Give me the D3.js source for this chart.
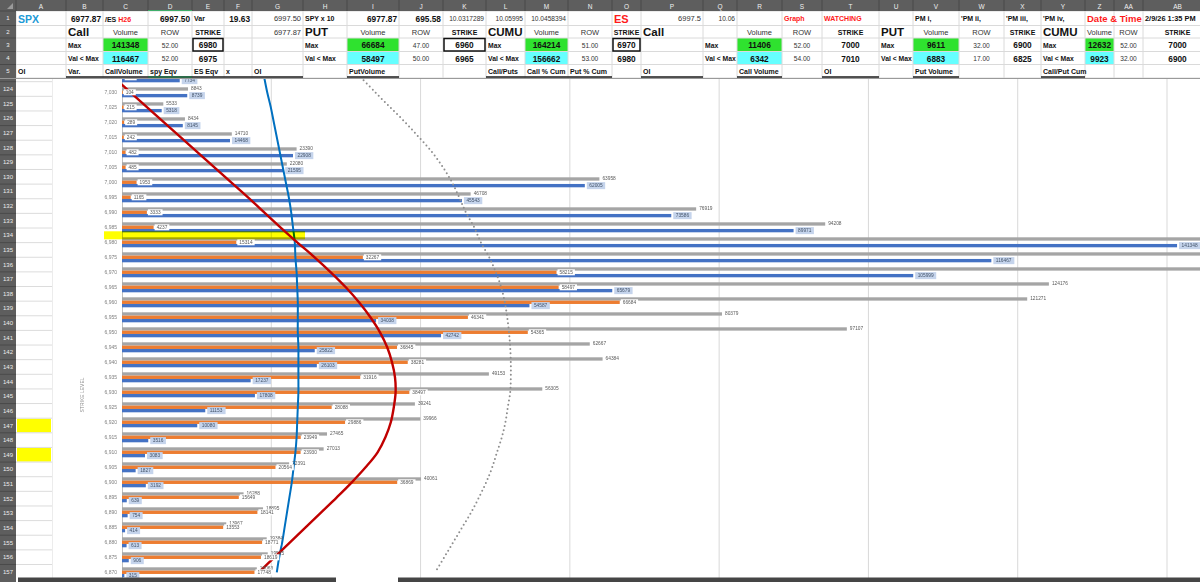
<!DOCTYPE html>
<html><head><meta charset="utf-8">
<script src="https://cdn.jsdelivr.net/npm/d3@7"></script>
<style>
html,body{margin:0;padding:0;background:#fff;overflow:hidden;}
svg{display:block;font-family:"Liberation Sans",Arial,sans-serif;}
</style></head><body>
<svg id="c" width="1200" height="582"></svg>
<script>
// ---------------- DATA ----------------
const strikes = [7035,7030,7025,7020,7015,7010,7005,7000,6995,6990,6985,6980,6975,6970,6965,6960,6955,6950,6945,6940,6935,6930,6925,6920,6915,6910,6905,6900,6895,6890,6885,6880,6875,6870];
const callVolume = [7734,8739,5318,8145,14468,22908,21595,62005,45543,73586,89971,141348,116467,105999,65679,54587,34038,42742,25822,26103,17237,17808,11153,10080,3516,3083,1827,3192,639,754,414,613,906,315];
const putVolume = [224,104,215,289,242,482,485,1953,1165,3333,4237,15314,32267,58215,58497,66684,46341,54365,36845,38281,31916,38497,28088,29886,23949,23930,20564,36869,15649,18141,13553,18771,18619,17748];
const totalVolume = [7958,8843,5533,8434,14710,23390,22080,63958,46708,76919,94208,156662,148734,164214,124176,121271,80379,97107,62667,64384,49153,56305,39241,39966,27465,27013,22391,40061,16288,18895,13967,19384,19525,18063];
// overlay curves (secondary scale, 0-100)
const redCurve = [-1.4,1.4,4.2,7.0,9.8,12.6,15.4,18.2,21.0,23.7,26.4,29.2,32.1,34.8,37.3,39.5,41.4,43.0,44.2,45.0,45.5,45.6,45.3,44.8,43.9,42.6,40.6,38.3,35.8,33.2,30.6,28.0,25.4,22.8];
const blueCurve = [23.7,24.2,24.8,25.3,25.8,26.3,26.8,27.3,27.8,28.2,28.5,28.8,28.9,29.1,29.2,29.3,29.3,29.3,29.4,29.4,29.4,29.4,29.3,29.2,29.1,28.9,28.6,28.3,27.9,27.5,27.1,26.7,26.2,25.8];
const dottedCurve = [39.8,42.2,44.7,47.2,49.5,51.7,53.5,55.0,56.2,57.3,58.7,59.8,61.2,62.3,63.2,63.8,64.2,64.5,64.7,64.8,64.8,64.7,64.3,63.9,63.3,62.5,61.7,60.7,59.5,58.2,56.7,55.2,53.7,52.2];
const xTicks = [0,20000,40000,60000,80000,100000,120000,140000,160000,180000];

// spreadsheet content
const colNames = ['A','B','C','D','E','F','G','H','I','J','K','L','M','N','O','P','Q','R','S','T','U','V','W','X','Y','Z','AA','AB'];
const colEdges = [16,66,103,148,192,224,252,303,347,399,443,486,525,568,612,641,703,737,782,822,879,913,959,1004,1041,1085,1114,1143,1212];
const rowEdges = [11,25.5,38,51.5,64.5,78];
const rowNums = d3.range(124,158);
const yellowRows = [147,149];
const headerCells = [
 ['A',1,'SPX','l','spx'],['B',1,'6977.87','r','bn'],['C',1,'/ES |H26','l','es'],['D',1,'6997.50','r','bn'],['E',1,'Var','l','b'],['F',1,'19.63','r','bn'],
 ['G',1,'6997.50','r','n'],['H',1,'SPY x 10','l','b'],['I',1,'6977.87','r','bn'],['J',1,'695.58','r','bn'],['K',1,'10.0317289','r','s'],['L',1,'10.05995','r','s'],['M',1,'10.0458394','r','s'],
 ['O',1,'ES','l','redbig'],['P',1,'6997.5','r','n'],['Q',1,'10.06','r','s'],['S',1,'Graph','l','red'],['T',1,'WATCHING','l','red'],
 ['V',1,'PM i,','l','b'],['W',1,"'PM ii,",'l','b'],['X',1,"'PM iii,",'l','b'],['Y',1,"'PM iv,",'l','b'],['Z',1,'Date & Time','l','redmid'],['AB',1,'2/9/26 1:35 PM','l','dt'],
 ['B',2,'Call','l','big'],['C',2,'Volume','c','n'],['D',2,'ROW','c','n'],['E',2,'STRIKE','c','b'],['G',2,'6977.87','r','n'],
 ['H',2,'PUT','l','big'],['I',2,'Volume','c','n'],['J',2,'ROW','c','n'],['K',2,'STRIKE','c','b'],
 ['L',2,'CUMU','l','big'],['M',2,'Volume','c','n'],['N',2,'ROW','c','n'],['O',2,'STRIKE','c','b'],
 ['P',2,'Call','l','big'],['R',2,'Volume','c','n'],['S',2,'ROW','c','n'],['T',2,'STRIKE','c','b'],
 ['U',2,'PUT','l','big'],['V',2,'Volume','c','n'],['W',2,'ROW','c','n'],['X',2,'STRIKE','c','b'],
 ['Y',2,'CUMU','l','big'],['Z',2,'Volume','c','n'],['AA',2,'ROW','c','n'],['AB',2,'STRIKE','c','b'],
 ['B',3,'Max','l','mx'],['C',3,'141348','c','green'],['D',3,'52.00','c','s'],['E',3,'6980','c','box'],
 ['H',3,'Max','l','mx'],['I',3,'66684','c','green'],['J',3,'47.00','c','s'],['K',3,'6960','c','box'],
 ['L',3,'Max','l','mx'],['M',3,'164214','c','green'],['N',3,'51.00','c','s'],['O',3,'6970','c','box'],
 ['Q',3,'Max','l','mx'],['R',3,'11406','c','green'],['S',3,'52.00','c','s'],['T',3,'7000','c','bn'],
 ['U',3,'Max','l','mx'],['V',3,'9611','c','green'],['W',3,'32.00','c','s'],['X',3,'6900','c','bn'],
 ['Y',3,'Max','l','mx'],['Z',3,'12632','c','green'],['AA',3,'52.00','c','s'],['AB',3,'7000','c','bn'],
 ['B',4,'Val < Max','l','mx'],['C',4,'116467','c','cyan'],['D',4,'52.00','c','s'],['E',4,'6975','c','bn'],
 ['H',4,'Val < Max','l','mx'],['I',4,'58497','c','cyan'],['J',4,'50.00','c','s'],['K',4,'6965','c','bn'],
 ['L',4,'Val < Max','l','mx'],['M',4,'156662','c','cyan'],['N',4,'53.00','c','s'],['O',4,'6980','c','bn'],
 ['Q',4,'Val < Max','l','mx'],['R',4,'6342','c','cyan'],['S',4,'54.00','c','s'],['T',4,'7010','c','bn'],
 ['U',4,'Val < Max','l','mx'],['V',4,'6883','c','cyan'],['W',4,'17.00','c','s'],['X',4,'6825','c','bn'],
 ['Y',4,'Val < Max','l','mx'],['Z',4,'9923','c','cyan'],['AA',4,'32.00','c','s'],['AB',4,'6900','c','bn'],
 ['A',5,'OI','l','b'],['B',5,'Var.','l','b'],['C',5,'CallVolume','l','b'],['D',5,'spy Eqv','l','b'],['E',5,'ES Eqv','l','b'],['F',5,'x','l','b'],['G',5,'OI','l','b'],
 ['I',5,'PutVolume','l','b'],['L',5,'Call/Puts','l','b'],['M',5,'Call % Cum','l','b'],['N',5,'Put % Cum','l','b'],['P',5,'OI','l','b'],
 ['R',5,'Call Volume','l','b'],['T',5,'OI','l','b'],['V',5,'Put Volume','l','b'],['Y',5,'Call/Put Cum','l','b']
];
const underlined = [['B','F'],['G','G'],['I','I'],['L','N'],['P','P'],['R','R'],['T','T'],['V','V'],['Y','Y']];

// ---------------- CHART ----------------
const svg = d3.select('#c');
const W = 1200, H = 582;
svg.append('rect').attr('width',W).attr('height',H).attr('fill','#fff');

const plotLeft = 122;
const x = d3.scaleLinear().domain([0,180000]).range([plotLeft, plotLeft + 180000*0.0074643]);
const xs = d3.scaleLinear().domain([0,100]).range([plotLeft, plotLeft + 600]);
const y = d3.scaleBand().domain(strikes).range([69.8, 69.8 + strikes.length*15]).paddingInner(1/3).paddingOuter(1/6);
const bw = y.bandwidth();
const sub = d3.scaleBand().domain(['total','put','call']).range([0,bw]);

const rows = strikes.map((s,i)=>({s, call:callVolume[i], put:putVolume[i], total:totalVolume[i], red:redCurve[i], blue:blueCurve[i], dot:dottedCurve[i]}));

svg.append('defs').append('clipPath').attr('id','plotclip').append('rect')
  .attr('x',plotLeft).attr('y',0).attr('width',W-plotLeft).attr('height',H);

const chart = svg.append('g');
chart.append('line').attr('x1',52).attr('x2',52).attr('y1',78).attr('y2',582).attr('stroke','#d9d9d9');

chart.selectAll('line.grid').data(xTicks.slice(1)).join('line').attr('class','grid')
  .attr('x1',d=>x(d)).attr('x2',d=>x(d)).attr('y1',60).attr('y2',582)
  .attr('stroke','#d9d9d9').attr('stroke-width',1);

const yAxis = chart.append('g').attr('transform',`translate(${plotLeft},0)`)
  .call(d3.axisLeft(y).tickSize(0).tickPadding(5).tickFormat(d3.format(',')));
yAxis.select('.domain').attr('stroke','#bfbfbf');
yAxis.selectAll('text').attr('font-size',5).attr('fill','#7f7f7f').attr('font-family','Liberation Sans, Arial, sans-serif');

chart.append('text').attr('transform','translate(82,395) rotate(-90)').attr('text-anchor','middle')
  .attr('dominant-baseline','central').attr('font-size',5).attr('fill','#8c8c8c').text('STRIKE LEVEL');

const series = [
  {key:'total', color:'#a5a5a5'},
  {key:'put', color:'#ed7d31'},
  {key:'call', color:'#4472c4'}
];
series.forEach(se=>{
  chart.selectAll('rect.b'+se.key).data(rows).join('rect').attr('class','b'+se.key)
    .attr('x',plotLeft).attr('y',d=>y(d.s)+sub(se.key))
    .attr('width',d=>x(d[se.key])-plotLeft).attr('height',sub.bandwidth())
    .attr('fill',se.color);
});

const mk = key => d3.line().x(d=>xs(d[key])).y(d=>y(d.s)+bw/2).curve(d3.curveCatmullRom.alpha(0.5));
const lines = chart.append('g').attr('clip-path','url(#plotclip)');
lines.append('path').datum(rows).attr('d',mk('dot')).attr('fill','none').attr('stroke','#8e8e8e')
  .attr('stroke-width',2).attr('stroke-linecap','round').attr('stroke-dasharray','0 4.3');
lines.append('path').datum(rows).attr('d',mk('blue')).attr('fill','none').attr('stroke','#0070c0').attr('stroke-width',2);
lines.append('path').datum(rows).attr('d',mk('red')).attr('fill','none').attr('stroke','#c00000').attr('stroke-width',2.4);

// labels (only those that start inside the visible window)
const fs = 4.8;
const tw = t => String(t).length*fs*0.556;
const lab = chart.append('g').attr('font-size',fs);
const visible = v => x(v) + 3 + tw(v) < W - 1;
rows.forEach(d=>{
  if (visible(d.total)) {
    const yc = y(d.s)+sub('total')+sub.bandwidth()/2;
    lab.append('text').attr('x',x(d.total)+3).attr('y',yc).attr('dominant-baseline','central').attr('fill','#595959').text(d.total);
  }
  if (visible(d.put)) {
    const yo = y(d.s)+sub('put')+sub.bandwidth()/2;
    lab.append('rect').attr('x',x(d.put)+1).attr('y',yo-3).attr('width',tw(d.put)+4).attr('height',6).attr('fill','#fff');
    lab.append('text').attr('x',x(d.put)+3).attr('y',yo).attr('dominant-baseline','central').attr('fill','#595959').text(d.put);
  }
  if (visible(d.call)) {
    const yb = y(d.s)+sub('call')+sub.bandwidth()/2;
    lab.append('rect').attr('x',x(d.call)+2).attr('y',yb-3.5).attr('width',tw(d.call)+5).attr('height',7).attr('fill','#c5d4ec');
    lab.append('text').attr('x',x(d.call)+4.5).attr('y',yb).attr('dominant-baseline','central').attr('fill','#44546a').text(d.call);
  }
});

// yellow highlighter between 6985 and 6980
const yh = (y(6985)+y(6980))/2 + bw/2;
chart.append('rect').attr('x',104).attr('y',yh-3.5).attr('width',201).attr('height',8)
  .attr('fill','#ffff00').style('mix-blend-mode','multiply');

// ---------------- SPREADSHEET ----------------
const sheet = svg.append('g');
const rowTop = 81.7, rowH = 14.63;
sheet.append('rect').attr('x',16).attr('y',78).attr('width',36).attr('height',H-78).attr('fill','#fff');
rowNums.forEach((r,i)=>{
  const t = rowTop + i*rowH;
  if (yellowRows.includes(r)) sheet.append('rect').attr('x',17).attr('y',t+0.5).attr('width',34).attr('height',rowH-1).attr('fill','#ffff00');
  sheet.append('line').attr('x1',16).attr('x2',52).attr('y1',t).attr('y2',t).attr('stroke','#dcdcdc');
});
sheet.append('rect').attr('x',0).attr('y',78).attr('width',16).attr('height',H-78).attr('fill','#5e5e5e');
rowNums.forEach((r,i)=>{
  const t = rowTop + i*rowH;
  sheet.append('line').attr('x1',0).attr('x2',16).attr('y1',t).attr('y2',t).attr('stroke','#4a4a4a');
  sheet.append('text').attr('x',8).attr('y',t+rowH/2).attr('text-anchor','middle').attr('dominant-baseline','central')
    .attr('font-size',6).attr('fill','#ececec').text(r);
});

sheet.append('rect').attr('x',0).attr('y',0).attr('width',W).attr('height',78).attr('fill','#fff');
const cx = c => { const i = colNames.indexOf(c); return [colEdges[i], colEdges[i+1]]; };
headerCells.forEach(([c,r,t,a,cls])=>{
  const [x0,x1] = cx(c);
  if (cls==='green' || cls==='cyan')
    sheet.append('rect').attr('x',x0).attr('y',rowEdges[r-1]).attr('width',x1-x0).attr('height',rowEdges[r]-rowEdges[r-1])
      .attr('fill', cls==='green' ? '#2fe22f' : '#66ffff');
});
colEdges.forEach(e=>sheet.append('line').attr('x1',e).attr('x2',e).attr('y1',11).attr('y2',78).attr('stroke','#dadada'));
rowEdges.forEach(e=>sheet.append('line').attr('x1',16).attr('x2',W).attr('y1',e).attr('y2',e).attr('stroke','#dadada'));
headerCells.filter(d=>d[4]==='box').forEach(([c,r])=>{
  const [x0,x1] = cx(c);
  sheet.append('rect').attr('x',x0+1).attr('y',rowEdges[r-1]+0.5).attr('width',x1-x0-2).attr('height',rowEdges[r]-rowEdges[r-1]-1)
    .attr('fill','none').attr('stroke','#111').attr('stroke-width',1.5);
});
const styles = {
  spx:{fs:10.5,fw:'bold',fill:'#1c9ad6'}, bn:{fs:8.3,fw:'bold',fill:'#111'}, b:{fs:7,fw:'bold',fill:'#111'},
  n:{fs:7.5,fw:'normal',fill:'#333'}, s:{fs:6.6,fw:'normal',fill:'#333'}, big:{fs:11.5,fw:'bold',fill:'#111'},
  red:{fs:7,fw:'bold',fill:'#ff1a1a'}, redbig:{fs:11,fw:'bold',fill:'#ff1a1a'}, redmid:{fs:9.5,fw:'bold',fill:'#ff1a1a'},
  mx:{fs:6.8,fw:'bold',fill:'#111'}, green:{fs:8.3,fw:'bold',fill:'#111'}, cyan:{fs:8.3,fw:'bold',fill:'#111'},
  box:{fs:8.3,fw:'bold',fill:'#111'}, es:{fs:7,fw:'bold',fill:'#111'}, dt:{fs:7.4,fw:'bold',fill:'#111'}
};
headerCells.forEach(([c,r,t,a,cls])=>{
  const [x0,x1] = cx(c);
  const st = styles[cls];
  const yc = (rowEdges[r-1]+rowEdges[r])/2 + 0.5;
  const xx = a==='l' ? x0+2 : a==='r' ? x1-2 : (x0+x1)/2;
  const txt = sheet.append('text').attr('x',xx).attr('y',yc).attr('dominant-baseline','central')
    .attr('text-anchor', a==='l'?'start':a==='r'?'end':'middle')
    .attr('font-size',st.fs).attr('font-weight',st.fw).attr('fill',st.fill);
  if (cls==='es') {
    const [p1,p2] = t.split('|');
    txt.append('tspan').text(p1);
    txt.append('tspan').attr('fill','#ff1a1a').text(p2);
  } else txt.text(t);
});
underlined.forEach(([a,b])=>{
  const x0 = cx(a)[0], x1 = cx(b)[1];
  sheet.append('line').attr('x1',x0).attr('x2',x1).attr('y1',77).attr('y2',77).attr('stroke','#1a1a1a').attr('stroke-width',1.6);
});
sheet.append('line').attr('x1',cx('D')[0]).attr('x2',cx('D')[1]).attr('y1',77).attr('y2',77).attr('stroke','#217346').attr('stroke-width',1.6);
sheet.append('line').attr('x1',0).attr('x2',W).attr('y1',78.5).attr('y2',78.5).attr('stroke','#9a9a9a').attr('stroke-width',1.2);

sheet.append('rect').attr('x',0).attr('y',0).attr('width',W).attr('height',11).attr('fill','#5e5e5e');
colNames.forEach((c,i)=>{
  const x0 = colEdges[i], x1 = colEdges[i+1];
  sheet.append('line').attr('x1',x0).attr('x2',x0).attr('y1',0).attr('y2',11).attr('stroke','#484848');
  sheet.append('text').attr('x',(x0+x1)/2).attr('y',6).attr('text-anchor','middle').attr('dominant-baseline','central')
    .attr('font-size',6.5).attr('fill','#f0f0f0').text(c);
});
sheet.append('line').attr('x1',cx('D')[0]).attr('x2',cx('D')[1]).attr('y1',10.5).attr('y2',10.5).attr('stroke','#3fae6a').attr('stroke-width',1.2);
sheet.append('rect').attr('x',0).attr('y',11).attr('width',16).attr('height',67).attr('fill','#5e5e5e');
[1,2,3,4,5].forEach(r=>{
  sheet.append('line').attr('x1',0).attr('x2',16).attr('y1',rowEdges[r-1]).attr('y2',rowEdges[r-1]).attr('stroke','#484848');
  sheet.append('text').attr('x',8).attr('y',(rowEdges[r-1]+rowEdges[r])/2).attr('text-anchor','middle').attr('dominant-baseline','central')
    .attr('font-size',6).attr('fill','#f0f0f0').text(r);
});
sheet.append('path').attr('d','M13,3 L13,9 L7,9 Z').attr('fill','#9a9a9a');

sheet.append('rect').attr('x',18).attr('y',577.5).attr('width',318).attr('height',5).attr('fill','#454545');
sheet.append('rect').attr('x',398).attr('y',577.5).attr('width',802).attr('height',5).attr('fill','#454545');
sheet.append('rect').attr('x',0).attr('y',577.5).attr('width',16).attr('height',5).attr('fill','#5e5e5e');
</script>
</body></html>
